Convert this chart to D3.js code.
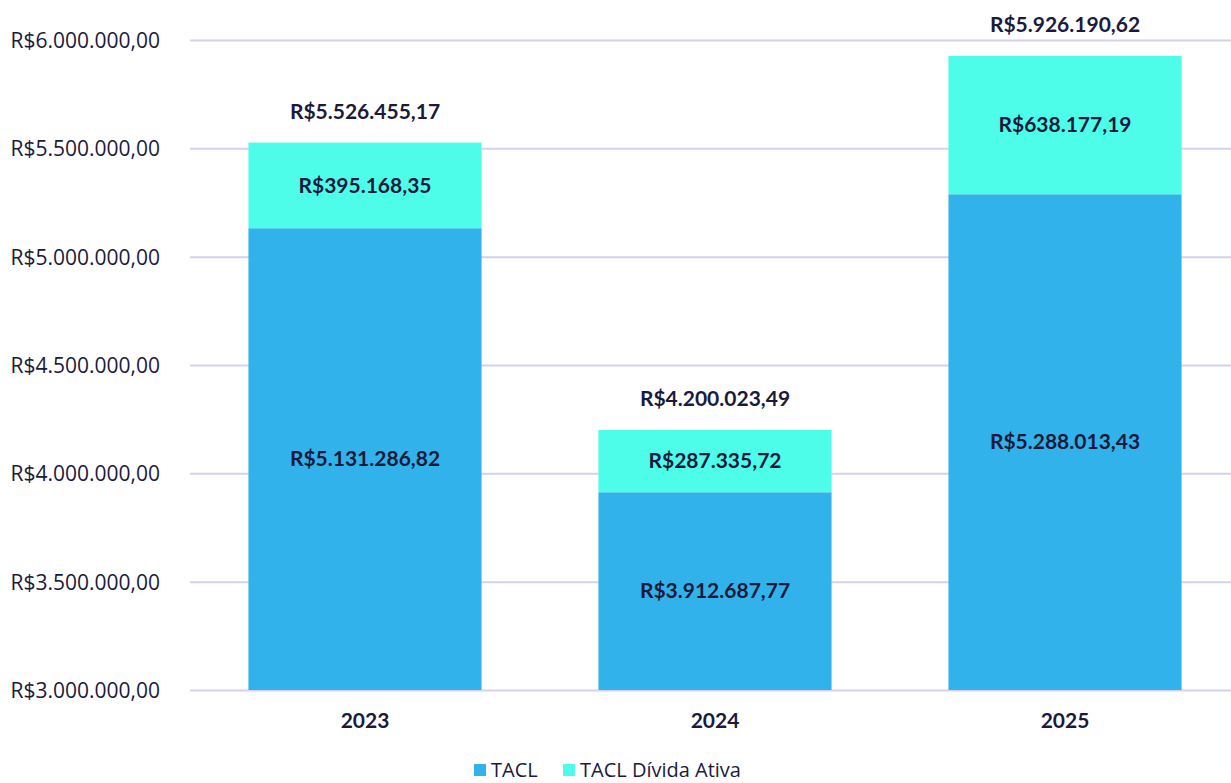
<!DOCTYPE html>
<html>
<head>
  <meta charset="utf8" />
  <style>
    body {
      margin: 0;
      background: #fff;
    }
    text {
      fill: #1b1a3b;
    }
    .tick text {
      font-family: "Open Sans", sans-serif;
      font-size: 21px;
    }
    .lbl, .xlab {
      font-family: Lato, "Open Sans", sans-serif;
      font-weight: bold;
      font-size: 21px;
      text-anchor: middle;
    }
    .legend text {
      font-family: "Open Sans", sans-serif;
      font-size: 20px;
    }
  </style>
</head>
<body>
  <script src="https://d3js.org/d3.v7.min.js"></script>
  <script>
    var years = ["2023", "2024", "2025"];
    var tacl = [5131286.82, 3912687.77, 5288013.43];
    var divida = [395168.35, 287335.72, 638177.19];
    var yTicks = [3000000, 3500000, 4000000, 4500000, 5000000, 5500000, 6000000];
    var seriesNames = ["TACL", "TACL Dívida Ativa"];
    var colors = ["#32b2ea", "#4dfde9"];

    var width = 1231, height = 783;

    var brl = d3.formatLocale({
      decimal: ",",
      thousands: ".",
      grouping: [3],
      currency: ["R$", ""]
    }).format("$,.2f");

    var svg = d3.select("body").append("svg")
      .attr("width", width)
      .attr("height", height);

    var x = d3.scaleBand()
      .domain(years)
      .range([190, 1240])
      .paddingInner(0.334)
      .paddingOuter(0.167);

    var y = d3.scaleLinear()
      .domain([3000000, 6000000])
      .range([690, 40]);

    // grid + y labels
    var yAxis = svg.append("g")
      .attr("transform", "translate(190,0)")
      .call(d3.axisLeft(y).tickValues(yTicks).tickSize(-1041).tickPadding(30).tickFormat(brl));
    yAxis.select(".domain").remove();
    yAxis.selectAll(".tick line").attr("stroke", "#d6d1ef").attr("stroke-width", 2);
    yAxis.selectAll(".tick text").attr("dy", "0.35em");

    var rows = years.map((yr, i) => ({ year: yr, a: tacl[i], b: divida[i] }));

    var g = svg.append("g");
    g.selectAll(".bar-a").data(rows).enter().append("rect")
      .attr("x", d => x(d.year))
      .attr("width", x.bandwidth())
      .attr("y", d => y(d.a))
      .attr("height", d => y(3000000) - y(d.a))
      .attr("fill", colors[0]);

    g.selectAll(".bar-b").data(rows).enter().append("rect")
      .attr("x", d => x(d.year))
      .attr("width", x.bandwidth())
      .attr("y", d => y(d.a + d.b))
      .attr("height", d => y(d.a) - y(d.a + d.b))
      .attr("fill", colors[1]);

    var cx = d => x(d.year) + x.bandwidth() / 2;

    g.selectAll(".la").data(rows).enter().append("text")
      .attr("class", "lbl")
      .attr("x", cx)
      .attr("y", d => (y(3000000) + y(d.a)) / 2)
      .attr("dy", "0.35em")
      .text(d => brl(d.a));

    g.selectAll(".lb").data(rows).enter().append("text")
      .attr("class", "lbl")
      .attr("x", cx)
      .attr("y", d => (y(d.a) + y(d.a + d.b)) / 2)
      .attr("dy", "0.35em")
      .text(d => brl(d.b));

    g.selectAll(".lt").data(rows).enter().append("text")
      .attr("class", "lbl")
      .attr("x", cx)
      .attr("y", d => y(d.a + d.b) - 31)
      .attr("dy", "0.35em")
      .text(d => brl(+(d.a + d.b).toFixed(2)));

    g.selectAll(".xlab").data(years).enter().append("text")
      .attr("class", "xlab")
      .attr("x", d => x(d) + x.bandwidth() / 2)
      .attr("y", 721)
      .attr("dy", "0.35em")
      .text(d => d);

    // legend
    var legend = svg.append("g").attr("class", "legend");
    var lx = [474, 563];
    seriesNames.forEach((name, i) => {
      legend.append("rect")
        .attr("x", lx[i]).attr("y", 764)
        .attr("width", 12).attr("height", 12)
        .attr("fill", colors[i]);
      legend.append("text")
        .attr("x", lx[i] + 17).attr("y", 770)
        .attr("dy", "0.35em")
        .text(name);
    });
  </script>
</body>
</html>
